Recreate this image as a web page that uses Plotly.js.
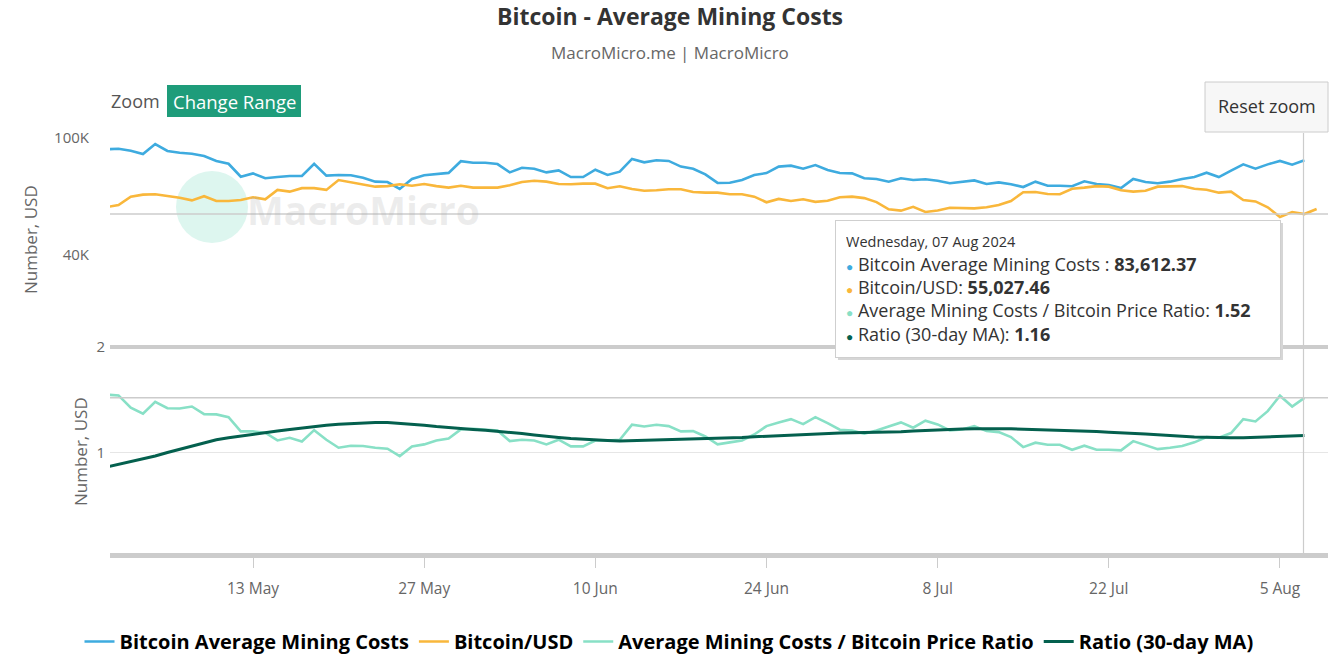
<!DOCTYPE html>
<html>
<head>
<meta charset="utf-8">
<script src="https://cdn.plot.ly/plotly-3.0.1.min.js"></script>
<style>html,body{margin:0;padding:0;background:#fff}#chart{width:1332px;height:655px}</style>
</head>
<body>
<div id="chart"></div>
<script>
// ---- data (daily, starting 2024-05-01) ----
const startDate = '2024-05-01';
const miningCost = [91100, 91500, 90100, 87800, 94900, 89900, 88700, 88000, 86500, 83200, 81400, 73600, 75500, 72700, 73400, 74000, 74000, 81400, 74200, 74600, 74400, 73000, 70800, 70600, 66900, 72300, 74400, 75100, 75800,
  83000, 82000, 82000, 81200, 76100, 78900, 78300, 76100, 77300, 73400, 73400, 77700, 74600, 76500, 84500, 82300, 83600, 83200, 79600, 78300, 74900, 70100, 70200, 71700, 74600, 75700, 79600, 80200, 78300, 80600, 77500, 75700, 75500, 72700, 72300, 70800,
  72700, 71700, 72100, 71300, 69900, 70600, 71500, 69500, 70400, 69400, 67900, 70800, 68600, 68600, 68300, 71000, 69500, 69000, 67400, 72300, 70600, 69900, 70800, 72300, 73400, 75900, 73400, 77100, 81000, 78300, 81000, 83200, 80800, 83612.37];
const btcPrice = [58100, 59000, 63000, 64000, 64200, 63300, 62500, 61200, 63200, 60900, 60900, 61400, 62700, 61700, 66400, 65500, 67300, 67300, 66400, 71700, 70600, 69400, 68100, 68400, 69400, 68600, 69500, 68400, 67600,
  68600, 67600, 67600, 67600, 68800, 70600, 71300, 70800, 69500, 69400, 69700, 69700, 67300, 68300, 66900, 66000, 66200, 66700, 66700, 65300, 65000, 65000, 64200, 64200, 63000, 60300, 61900, 60900, 61700, 60500, 61000, 62700, 63000, 62300, 60400, 57100,
  56500, 58200, 55900, 56600, 57800, 57700, 57500, 58000, 59000, 60900, 65200, 65300, 64300, 64200, 67000, 67600, 68400, 68100, 66200, 65500, 66000, 68100, 68100, 68400, 67000, 66500, 65000, 65500, 61400, 60700, 58000, 53800, 55900, 55027.46, 57200];
const costPriceRatio = [1.55, 1.543, 1.426, 1.369, 1.483, 1.422, 1.419, 1.438, 1.366, 1.363, 1.337, 1.202, 1.202, 1.189, 1.116, 1.142, 1.107, 1.214, 1.123, 1.047, 1.066, 1.063, 1.047, 1.038, 0.968, 1.06, 1.079, 1.116, 1.135,
  1.221, 1.227, 1.221, 1.211, 1.110, 1.123, 1.116, 1.079, 1.123, 1.060, 1.060, 1.116, 1.116, 1.123, 1.265, 1.249, 1.265, 1.252, 1.202, 1.205, 1.154, 1.079, 1.098, 1.116, 1.173, 1.252, 1.287, 1.318, 1.271, 1.337, 1.280, 1.218, 1.211, 1.180, 1.211, 1.25,
  1.287, 1.237, 1.303, 1.268, 1.211, 1.221, 1.252, 1.205, 1.195, 1.148, 1.053, 1.095, 1.076, 1.076, 1.028, 1.066, 1.028, 1.028, 1.022, 1.110, 1.072, 1.034, 1.047, 1.063, 1.098, 1.148, 1.142, 1.186, 1.318, 1.296, 1.394, 1.540, 1.438, 1.52];
const ratioMA30 = [0.864, 0.889, 0.913, 0.937, 0.969, 1.002, 1.034, 1.064, 1.094, 1.123, 1.141, 1.159, 1.176, 1.191, 1.206, 1.221, 1.235, 1.248, 1.261, 1.269, 1.277, 1.284, 1.286, 1.287, 1.280, 1.271, 1.260, 1.248, 1.237,
  1.229, 1.221, 1.212, 1.204, 1.195, 1.181, 1.168, 1.154, 1.145, 1.135, 1.126, 1.121, 1.115, 1.110, 1.113, 1.117, 1.120, 1.123, 1.126, 1.129, 1.132, 1.135, 1.138, 1.144, 1.151, 1.157, 1.162, 1.168, 1.173, 1.177, 1.182, 1.186, 1.188, 1.190, 1.192, 1.193,
  1.199, 1.206, 1.212, 1.218, 1.221, 1.224, 1.227, 1.230, 1.228, 1.226, 1.223, 1.221, 1.217, 1.213, 1.209, 1.205, 1.200, 1.195, 1.191, 1.186, 1.178, 1.170, 1.162, 1.154, 1.150, 1.146, 1.142, 1.142, 1.142, 1.145, 1.148, 1.153, 1.158, 1.163];
const xTickVals = ['2024-05-13', '2024-05-27', '2024-06-10', '2024-06-24', '2024-07-08', '2024-07-22', '2024-08-05'];
const xTickText = ['13 May', '27 May', '10 Jun', '24 Jun', '8 Jul', '22 Jul', '5 Aug'];
const seriesNames = ['Bitcoin Average Mining Costs', 'Bitcoin/USD', 'Average Mining Costs / Bitcoin Price Ratio', 'Ratio (30-day MA)'];
const seriesColors = ['#3eabdf', '#f9b73b', '#88e0c6', '#04604e'];
const hoverLabel = 'Wednesday, 07 Aug 2024';

function dayList(n) {
  const out = [];
  const d0 = new Date(startDate + 'T00:00:00Z');
  for (let i = 0; i < n; i++) {
    const d = new Date(d0.getTime() + i * 86400000);
    out.push(d.toISOString().slice(0, 10));
  }
  return out;
}
const fmt = (v, dec) => v.toLocaleString('en-US', {minimumFractionDigits: dec, maximumFractionDigits: dec});

const FONT = 'Open Sans, Noto Sans, sans-serif';
const traces = [
  {x: dayList(miningCost.length), y: miningCost, name: seriesNames[0], xaxis: 'x', yaxis: 'y', mode: 'lines', line: {color: seriesColors[0], width: 2.6}},
  {x: dayList(btcPrice.length), y: btcPrice, name: seriesNames[1], xaxis: 'x', yaxis: 'y', mode: 'lines', line: {color: seriesColors[1], width: 2.6}},
  {x: dayList(costPriceRatio.length), y: costPriceRatio, name: seriesNames[2], xaxis: 'x', yaxis: 'y2', mode: 'lines', line: {color: seriesColors[2], width: 2.6}},
  {x: dayList(ratioMA30.length), y: ratioMA30, name: seriesNames[3], xaxis: 'x', yaxis: 'y2', mode: 'lines', line: {color: seriesColors[3], width: 3}}
];

const L = 110, R = 1328, T = 125, B = 553;
const px = v => (v - L) / (R - L);
const py = v => (B - v) / (B - T);

const iLast = miningCost.length - 1;
const dot = c => '<span style="color:' + c + ';font-size:12px">●</span> ';
const tipText =
  '<span style="font-size:14.5px">' + hoverLabel + '</span><br>' +
  dot(seriesColors[0]) + seriesNames[0] + ' : <b>' + fmt(miningCost[iLast], 2) + '</b><br>' +
  dot(seriesColors[1]) + seriesNames[1] + ': <b>' + fmt(btcPrice[iLast], 2) + '</b><br>' +
  dot(seriesColors[2]) + seriesNames[2] + ': <b>' + fmt(costPriceRatio[iLast], 2) + '</b><br>' +
  dot(seriesColors[3]) + seriesNames[3] + ': <b>' + fmt(ratioMA30[iLast], 2) + '</b>';

const layout = {
  width: 1332, height: 655,
  margin: {l: L, r: 1332 - R, t: T, b: 655 - B, pad: 0, autoexpand: false},
  paper_bgcolor: '#fff', plot_bgcolor: '#fff',
  font: {family: FONT, color: '#666'},
  showlegend: true,
  hovermode: false,
  title: {text: '<b>Bitcoin - Average Mining Costs</b>', x: 670 / 1332, xanchor: 'center', y: 1 - 17 / 655, yanchor: 'middle', font: {family: FONT, size: 23, color: '#333'}},
  xaxis: {
    type: 'date', anchor: 'y2', domain: [0, 1],
    range: ['2024-05-01 07:15', '2024-08-08 22:20'],
    tickvals: xTickVals, ticktext: xTickText,
    ticks: 'outside', ticklen: 10, tickcolor: '#cccccc', tickwidth: 1,
    showline: true, linecolor: '#cccccc', linewidth: 5,
    showgrid: false, zeroline: false,
    tickfont: {family: FONT, size: 15.5, color: '#666'},
    ticklabelstandoff: 7
  },
  yaxis: {
    type: 'log', domain: [py(345), 1], range: [4.2978, 5.0416],
    tickvals: [40000, 100000], ticktext: ['40K', '100K'],
    showgrid: false, zeroline: false, showline: false, ticks: '',
    tickfont: {family: FONT, size: 15, color: '#666'},
    ticklabelstandoff: 20
  },
  yaxis2: {
    type: 'linear', domain: [0, py(347)], range: [2 - (B - 347) / 105.6, 2.002],
    tickvals: [1, 2], ticktext: ['1', '2'],
    showgrid: true, gridcolor: '#e6e6e6', gridwidth: 1,
    zeroline: false, showline: false, ticks: '',
    tickfont: {family: FONT, size: 15, color: '#666'},
    ticklabelstandoff: 4
  },
  legend: {
    orientation: 'h', x: px(669), xanchor: 'center', y: py(622), yanchor: 'top',
    font: {family: FONT, size: 20, color: '#000', weight: 'bold'},
    itemwidth: 30, tracegroupgap: 0, maxheight: 200, borderwidth: 0
  },
  shapes: [
    // watermark circle
    {type: 'circle', layer: 'below', xref: 'paper', yref: 'paper', xsizemode: 'pixel', ysizemode: 'pixel',
     xanchor: px(212), yanchor: py(207), x0: -36, x1: 36, y0: -36, y1: 36, fillcolor: '#ddf6ef', line: {width: 0}},
    // pane separator
    {type: 'line', xref: 'paper', yref: 'paper', x0: 0, x1: 1, y0: py(347), y1: py(347), line: {color: '#cccccc', width: 4}},
    // value lines at hovered point
    {type: 'line', xref: 'paper', yref: 'y', x0: 0, x1: 1, y0: btcPrice[iLast], y1: btcPrice[iLast], line: {color: '#cccccc', width: 1.5}},
    {type: 'line', xref: 'paper', yref: 'y2', x0: 0, x1: 1, y0: costPriceRatio[iLast], y1: costPriceRatio[iLast], line: {color: '#cccccc', width: 1.5}},
    // vertical crosshair
    {type: 'line', xref: 'paper', yref: 'paper', x0: px(1303.5), x1: px(1303.5), y0: 0, y1: py(133), line: {color: '#cccccc', width: 1.2}},
    // Reset zoom button
    {type: 'rect', xref: 'paper', yref: 'paper', x0: px(1205), x1: px(1328), y0: py(132), y1: py(82), fillcolor: '#f7f7f7', line: {color: '#cccccc', width: 1}},
    // Change Range button
    {type: 'rect', xref: 'paper', yref: 'paper', x0: px(167), x1: px(301), y0: py(117), y1: py(85), fillcolor: '#1e9c7a', line: {width: 0}},
    // tooltip shadow
    {type: 'rect', xref: 'paper', yref: 'paper', x0: px(838), x1: px(1283), y0: py(360), y1: py(223), fillcolor: '#d6d6d6', line: {width: 0}}
  ],
  annotations: [
    {text: 'MacroMicro.me | MacroMicro', xref: 'paper', yref: 'paper', x: px(670), y: py(53), xanchor: 'center', yanchor: 'middle', showarrow: false, font: {family: FONT, size: 17, color: '#666'}},
    {text: 'Zoom', xref: 'paper', yref: 'paper', x: px(109), y: py(101), xanchor: 'left', yanchor: 'middle', showarrow: false, font: {family: FONT, size: 18, color: '#555'}},
    {text: 'Change Range', xref: 'paper', yref: 'paper', x: px(234.5), y: py(101), xanchor: 'center', yanchor: 'middle', showarrow: false, font: {family: FONT, size: 18.5, color: '#fff'}},
    {text: 'Reset zoom', xref: 'paper', yref: 'paper', x: px(1266.5), y: py(106), xanchor: 'center', yanchor: 'middle', showarrow: false, font: {family: FONT, size: 18, color: '#333'}},
    {text: '<b>MacroMicro</b>', xref: 'paper', yref: 'paper', x: px(245), y: py(209), xanchor: 'left', yanchor: 'middle', showarrow: false, font: {family: FONT, size: 39, color: 'rgba(170,170,170,0.22)'}},
    {text: 'Number, USD', xref: 'paper', yref: 'paper', x: px(30), y: py(240), xanchor: 'center', yanchor: 'middle', textangle: -90, showarrow: false, font: {family: FONT, size: 17, color: '#666'}},
    {text: 'Number, USD', xref: 'paper', yref: 'paper', x: px(80), y: py(452), xanchor: 'center', yanchor: 'middle', textangle: -90, showarrow: false, font: {family: FONT, size: 17, color: '#666'}},
    {text: tipText, xref: 'paper', yref: 'paper', x: px(835), y: py(220), xanchor: 'left', yanchor: 'top', align: 'left', showarrow: false,
     width: 424, height: 116, valign: 'middle', bgcolor: '#ffffff', bordercolor: '#cfcfcf', borderwidth: 1, borderpad: 10,
     font: {family: FONT, size: 18, color: '#333'}}
  ]
};

Plotly.newPlot('chart', traces, layout, {displayModeBar: false, staticPlot: true});
</script>
</body>
</html>
